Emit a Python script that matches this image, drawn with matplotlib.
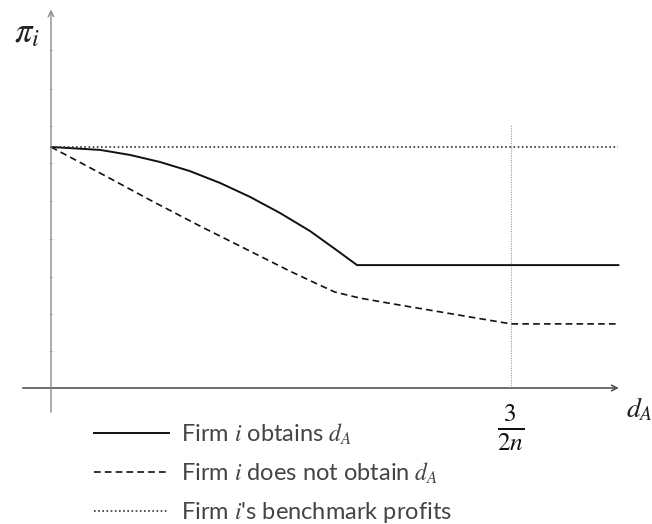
import matplotlib.pyplot as plt
import numpy as np

plt.rcParams['mathtext.fontset'] = 'stix'
plt.rcParams['font.family'] = ['Lato', 'DejaVu Sans']

# d_A axis: 3/(2n) sits at 1.5 ; profits scaled so benchmark = 1
kink_x = 1.5
x_end = 1.85

# Firm i obtains d_A
obt_x = [0.0, 0.160, 0.258, 0.355, 0.453, 0.551, 0.649, 0.747, 0.845, 0.926, 0.998, 1.85]
obt_y = [1.0, 0.988, 0.967, 0.938, 0.900, 0.851, 0.793, 0.726, 0.651, 0.577, 0.510, 0.510]

# Firm i does not obtain d_A
not_x = [0.0, 0.160, 0.323, 0.486, 0.649, 0.779, 0.861, 0.926, 1.008, 1.138, 1.5, 1.85]
not_y = [1.0, 0.892, 0.780, 0.672, 0.568, 0.485, 0.436, 0.398, 0.373, 0.344, 0.266, 0.266]

# benchmark profits
bench_y = 1.0

# faint ticks on the vertical axis
ytick_pos = [0.154, 0.307, 0.46, 0.62, 0.776, 0.933, 1.087, 1.24, 1.402]

fig = plt.figure(figsize=(6.52, 5.24), dpi=100)
ax = fig.add_axes([0, 0, 1, 1])
ax.set_xlim(-0.1663, 1.9598)
ax.set_ylim(-0.5643, 1.61)
ax.axis('off')

# axes with arrows
ax.annotate('', xy=(1.852, 0), xytext=(-0.092, 0),
            arrowprops=dict(arrowstyle='->', color='#555555', lw=1.2,
                            shrinkA=0, shrinkB=0))
ax.annotate('', xy=(0, 1.57), xytext=(0, -0.10),
            arrowprops=dict(arrowstyle='->', color='#8a8a8a', lw=1.0,
                            shrinkA=0, shrinkB=0))
for t in ytick_pos:
    ax.plot([-0.005, 0.005], [t, t], color='#cccccc', lw=0.5)

# vertical guide at 3/(2n)
ax.plot([kink_x, kink_x], [0, 1.09], color='#999999', lw=0.8, ls=(0, (1, 1.2)))

l1, = ax.plot(obt_x, obt_y, color='#111111', lw=1.4)
l2, = ax.plot(not_x, not_y, color='#111111', lw=1.2, ls=(0, (4, 2.5)))
l3, = ax.plot([0, x_end], [bench_y, bench_y], color='#333333', lw=1.2, ls=(0, (1, 1.5)))

ax.text(-0.078, 1.472, r'$\pi_i$', fontsize=25, ha='center', va='center', color='#222222')
ax.text(1.918, -0.088, r'$d_A$', fontsize=20, ha='center', va='center', color='#222222')
ax.text(kink_x, -0.165, r'$\frac{3}{2n}$', fontsize=26, ha='center', va='center', color='#111111')

leg = ax.legend([l1, l2, l3],
                [r'Firm $i$ obtains $d_A$',
                 r'Firm $i$ does not obtain $d_A$',
                 r"Firm $i$'s benchmark profits"],
                loc='upper left', bbox_to_anchor=(0.144, 0.196), frameon=False,
                fontsize=17, handlelength=3.2, handletextpad=0.5,
                labelspacing=0.6, borderaxespad=0, borderpad=0)
for txt in leg.get_texts():
    txt.set_color('#444444')

fig.savefig('out.png', dpi=100)
